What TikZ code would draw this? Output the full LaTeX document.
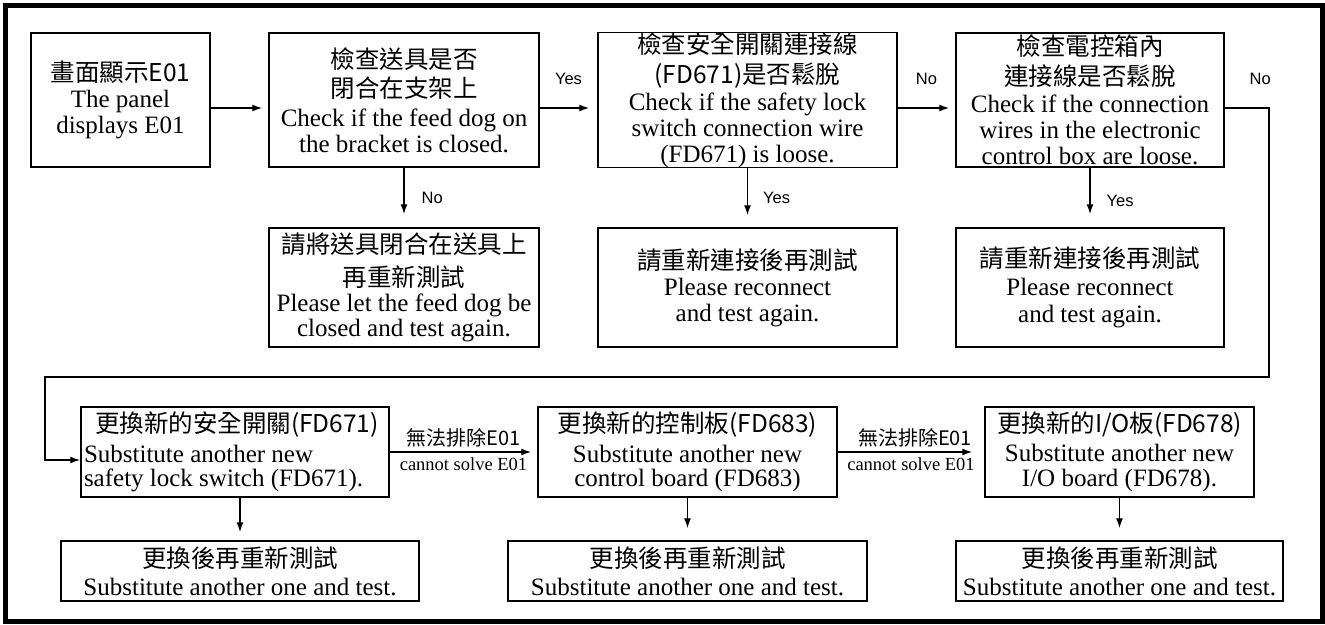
\documentclass[tikz,border=0pt]{standalone}
\usepackage{fontspec}
\setmainfont{Liberation Serif}
\newfontfamily\cjkfont{Noto Sans CJK TC}
\newfontfamily\labfont{Liberation Sans}
\usetikzlibrary{arrows.meta}
\newcommand{\zh}[1]{{\cjkfont\fontsize{24.5}{26}\selectfont #1}}

\begin{document}
\begin{tikzpicture}[x=1pt,y=-1pt,
    box/.style={draw,line width=1.5pt,inner sep=0pt,align=center,
      font=\fontsize{25}{26}\selectfont},
    arr/.style={line width=1.4pt,-{Latex[length=10pt,width=7pt]}},
    lab/.style={font=\labfont\fontsize{16.5}{17}\selectfont,inner sep=0pt},
    sub/.style={font=\fontsize{18.5}{19}\selectfont,inner sep=0pt}]
  \useasboundingbox (0,0) rectangle (1325,624);
  \draw[line width=5pt] (5.8,5.8) rectangle (1322.5,621.5);

  \node[box,minimum width=179pt,minimum height=134pt] (panel) at (120.5,100)
    {\zh{畫面顯示E01}\\The panel\\displays E01};
  \node[box,minimum width=270pt,minimum height=134pt] (feed) at (404,100)
    {\zh{檢查送具是否}\\[3pt]\zh{閉合在支架上}\\[3pt]Check if the feed dog on\\the bracket is closed.};
  \node[box,minimum width=299pt,minimum height=134pt] (lock) at (747.5,100)
    {\zh{檢查安全開關連接線}\\[4pt]\zh{(FD671)是否鬆脫}\\[1pt]Check if the safety lock\\switch connection wire\\(FD671) is loose.};
  \node[box,minimum width=268pt,minimum height=134pt] (wire) at (1090,100)
    {\zh{檢查電控箱內}\\[4pt]\zh{連接線是否鬆脫}\\[1pt]Check if the connection\\wires in the electronic\\control box are loose.};

  \node[box,minimum width=270pt,minimum height=119pt] (close) at (404,287.5)
    {\zh{請將送具閉合在送具上}\\[7pt]\zh{再重新測試}\\[-1pt]Please let the feed dog be\\[-1pt]closed and test again.};
  \node[box,minimum width=299pt,minimum height=119pt] (recon1) at (747.5,287.5)
    {\zh{請重新連接後再測試}\\Please reconnect\\and test again.};
  \node[box,minimum width=268pt,minimum height=119pt] (recon2) at (1090,287.5)
    {\zh{請重新連接後再測試}\\[2pt]Please reconnect\\[1pt]and test again.};

  \node[box,align=flush left,text width=302pt,inner xsep=3pt,minimum height=90pt] (swap1) at (235,452)
    {\hspace*{11pt}\zh{更換新的安全開關(FD671)}\\[4pt]Substitute another new\\[-2pt]safety lock switch (FD671).};
  \node[box,minimum width=299pt,minimum height=90pt] (swap2) at (687.5,452)
    {\zh{更換新的控制板(FD683)}\\[4pt]Substitute another new\\[-2pt]control board (FD683)};
  \node[box,minimum width=269pt,minimum height=90pt] (swap3) at (1119.5,452)
    {\zh{更換新的I/O板(FD678)}\\[3pt]Substitute another new\\[-1pt]I/O board (FD678).};

  \node[box,minimum width=358pt,minimum height=60pt] (test1) at (240,571)
    {\zh{更換後再重新測試}\\[2pt]Substitute another one and test.};
  \node[box,minimum width=359pt,minimum height=60pt] (test2) at (687.5,571)
    {\zh{更換後再重新測試}\\[2pt]Substitute another one and test.};
  \node[box,minimum width=327pt,minimum height=60pt] (test3) at (1119.5,571)
    {\zh{更換後再重新測試}\\[2pt]Substitute another one and test.};

  \coordinate (turnR) at (1269,377);
  \coordinate (turnL) at (45,377);

  \draw[arr,shorten >=6pt] ([yshift=-8pt]panel.east) -- ([yshift=-8pt]feed.west);
  \draw[arr,shorten >=8pt] ([yshift=-8pt]feed.east) -- node[lab,above=23pt]{Yes} ([yshift=-8pt]lock.west);
  \draw[arr,shorten >=6pt] ([yshift=-8pt]lock.east) -- node[lab,above=23pt]{No} ([yshift=-8pt]wire.west);
  \draw[arr] ([yshift=-8pt]wire.east) -| node[lab,pos=0.4,above=23pt]{No} (turnR) -- (turnL) |- ([yshift=-8pt]swap1.west);

  \draw[arr,shorten >=13pt] (feed.south) -- node[lab,right=17pt]{No} (close.north);
  \draw[arr,shorten >=12pt] (lock.south) -- node[lab,right=15pt]{Yes} (recon1.north);
  \draw[arr,shorten >=13pt] (wire.south) -- node[lab,right=16pt,yshift=-3pt]{Yes} (recon2.north);

  \draw[arr,shorten >=6pt] (swap1.east) -- node[above=4pt,inner sep=0pt]{\cjkfont\fontsize{20}{20}\selectfont 無法排除E01}
    node[sub,below=5pt]{cannot solve E01} (swap2.west);
  \draw[arr,shorten >=12pt] (swap2.east) -- node[above=4pt,inner sep=0pt,xshift=4pt]{\cjkfont\fontsize{20}{20}\selectfont 無法排除E01}
    node[sub,below=5pt]{cannot solve E01} (swap3.west);

  \draw[arr,shorten >=8pt] (test1.north |- swap1.south) -- (test1.north);
  \draw[arr,shorten >=12pt] (swap2.south) -- (test2.north);
  \draw[arr,shorten >=12pt] (swap3.south) -- (test3.north);
\end{tikzpicture}
\end{document}
